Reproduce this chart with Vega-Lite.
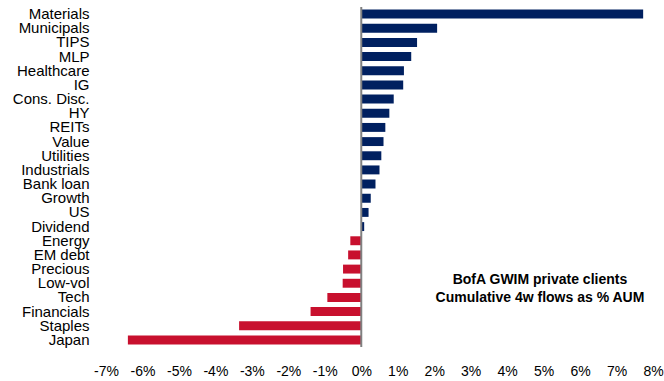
{
  "$schema": "https://vega.github.io/schema/vega-lite/v6.json",
  "autosize": {"type": "none"},
  "padding": {"left": 106, "top": 7, "right": 11, "bottom": 34},
  "width": 547,
  "height": 340,
  "background": "white",
  "config": {
    "view": {"stroke": null},
    "font": "Liberation Sans",
    "axisX": {"labelOverlap": false, "labelFlush": false, "labelBound": false}
  },
  "datasets": {
    "flows": [
      {"category": "Materials", "value": 0.0773},
      {"category": "Municipals", "value": 0.0208},
      {"category": "TIPS", "value": 0.0153},
      {"category": "MLP", "value": 0.0137},
      {"category": "Healthcare", "value": 0.0117},
      {"category": "IG", "value": 0.0115},
      {"category": "Cons. Disc.", "value": 0.0089},
      {"category": "HY", "value": 0.0077},
      {"category": "REITs", "value": 0.0066},
      {"category": "Value", "value": 0.0061},
      {"category": "Utilities", "value": 0.0055},
      {"category": "Industrials", "value": 0.0050},
      {"category": "Bank loan", "value": 0.0039},
      {"category": "Growth", "value": 0.0026},
      {"category": "US", "value": 0.0020},
      {"category": "Dividend", "value": 0.0008},
      {"category": "Energy", "value": -0.0030},
      {"category": "EM debt", "value": -0.0036},
      {"category": "Precious", "value": -0.0050},
      {"category": "Low-vol", "value": -0.0051},
      {"category": "Tech", "value": -0.0093},
      {"category": "Financials", "value": -0.0139},
      {"category": "Staples", "value": -0.0335},
      {"category": "Japan", "value": -0.0640}
    ],
    "note1": [
      {"category": "Low-vol", "value": 0.0490, "text": "BofA GWIM private clients"}
    ],
    "note2": [
      {"category": "Tech", "value": 0.0490, "text": "Cumulative 4w flows as % AUM"}
    ]
  },
  "encoding": {
    "x": {
      "field": "value", "type": "quantitative",
      "scale": {"domain": [-0.07, 0.08], "nice": false, "zero": false},
      "axis": {
        "title": null, "domain": false, "ticks": false, "grid": false,
        "values": [-0.07, -0.06, -0.05, -0.04, -0.03, -0.02, -0.01, 0, 0.01, 0.02, 0.03, 0.04, 0.05, 0.06, 0.07, 0.08],
        "labelExpr": "round(datum.value*100) + '%'",
        "labelFontSize": 14, "labelColor": "#000000", "labelPadding": 17, "labelFlush": false, "labelOverlap": false, "labelSeparation": 0
      }
    }
  },
  "layer": [
    {
      "data": {"name": "flows"},
      "mark": {"type": "bar"},
      "encoding": {
        "y": {
          "field": "category", "type": "nominal", "sort": null,
          "scale": {"paddingInner": 0.37, "paddingOuter": 0.185},
          "axis": {"title": null, "domain": false, "ticks": false, "labelFontSize": 15, "labelColor": "#000000", "labelPadding": 17, "labelFont": "Liberation Sans"}
        },
        "color": {"condition": {"test": "datum.value < 0", "value": "#C8102E"}, "value": "#002060"}
      }
    },
    {
      "data": {"values": [{"value": 0}]},
      "mark": {"type": "rule", "color": "#808080", "strokeWidth": 2},
      "encoding": {}
    },
    {
      "data": {"name": "note1"},
      "mark": {"type": "text", "fontWeight": "bold", "fontSize": 14, "align": "center", "baseline": "middle", "color": "#000000", "dy": -3},
      "encoding": {
        "y": {"field": "category", "type": "nominal", "sort": null},
        "text": {"field": "text"}
      }
    },
    {
      "data": {"name": "note2"},
      "mark": {"type": "text", "fontWeight": "bold", "fontSize": 14, "align": "center", "baseline": "middle", "color": "#000000", "dy": 1},
      "encoding": {
        "y": {"field": "category", "type": "nominal", "sort": null},
        "text": {"field": "text"}
      }
    }
  ]
}
